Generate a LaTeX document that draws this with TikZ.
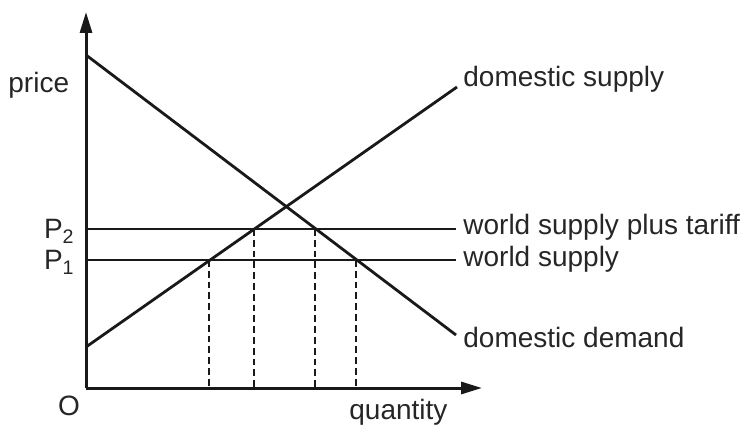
\documentclass[tikz,border=0pt]{standalone}
\usepackage{fontspec}
\setmainfont{Liberation Sans}
\usetikzlibrary{arrows.meta,calc}
\begin{document}
\begin{tikzpicture}[x=0.5pt,y=-0.5pt,
  curve/.style={line width=1.4pt,draw=black!90},
  axisline/.style={line width=1.5pt,draw=black!90,-{Triangle[length=10.5pt,width=6pt]}},
  guide/.style={line width=1.3pt,draw=black!90,dash pattern=on 3.4pt off 2pt},
  lbl/.style={inner sep=0pt,text=black!85,font=\fontsize{14}{16}\selectfont}]
\useasboundingbox (0,0) rectangle (742,426);
% coordinates
\coordinate (O) at (86,388);
\coordinate (ytop) at (86,12);
\coordinate (xend) at (482,388);
\coordinate (s0) at (86,347);
\coordinate (s1) at (457,87);
\coordinate (d0) at (86,55);
\coordinate (d1) at (456,335);
\coordinate (p2L) at (86,229);
\coordinate (p2R) at (456,229);
\coordinate (p1L) at (86,260);
\coordinate (p1R) at (456,260);
\coordinate (a1) at (209,260);
\coordinate (a2) at (254,229);
\coordinate (a3) at (315,229);
\coordinate (a4) at (356,260);
\coordinate (b1) at (209,388);
\coordinate (b2) at (254,388);
\coordinate (b3) at (315,388);
\coordinate (b4) at (356,388);
% guides
\draw[guide] (a1) -- (b1);
\draw[guide] (a2) -- (b2);
\draw[guide] (a3) -- (b3);
\draw[guide] (a4) -- (b4);
% curves
\draw[curve] (s0) -- (s1);
\draw[curve] (d0) -- (d1);
\draw[curve] (p2L) -- (p2R);
\draw[curve] (p1L) -- (p1R);
% axes
\draw[axisline] (O) -- (ytop);
\draw[axisline] (O) -- (xend);
% labels
\node[lbl,anchor=base west] (price) at (8,93) {price};
\node[lbl,anchor=base west] (qty) at (349,419) {quantity};
\node[lbl,anchor=base] (orig) at (69,415) {O};
\node[lbl,anchor=base east] (P2) at (75,239) {P\textsubscript{2}};
\node[lbl,anchor=base east] (P1) at (75,270) {P\textsubscript{1}};
\node[lbl,anchor=base west] (ds) at (463,87) {domestic supply};
\node[lbl,anchor=base west] (wst) at (463,235) {world supply plus tariff};
\node[lbl,anchor=base west] (ws) at (463,267) {world supply};
\node[lbl,anchor=base west] (dd) at (463,348) {domestic demand};
\end{tikzpicture}
\end{document}
